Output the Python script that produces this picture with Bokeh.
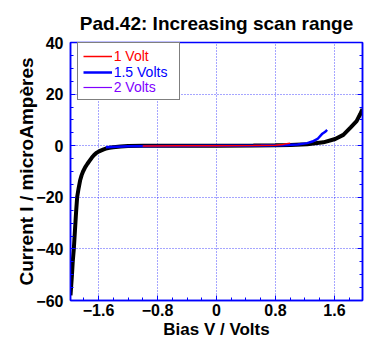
from bokeh.plotting import figure
from bokeh.models import (Range1d, FixedTicker, LinearAxis, Legend, LegendItem)
from bokeh.embed import file_html
from bokeh.resources import INLINE

# ---- data ----
v_1 = [-1.0, -0.5, 0.0, 0.5, 0.8, 0.9, 0.95, 1.0]
i_1 = [-0.1, 0.0, 0.0, 0.05, 0.2, 0.5, 0.8, 1.0]

v_15 = [-1.5, -1.2, -0.8, 0.0, 0.6, 0.9, 1.1, 1.23, 1.3, 1.37, 1.43, 1.48, 1.5]
i_15 = [-0.6, -0.25, -0.1, 0.0, 0.05, 0.2, 0.5, 1.0, 1.6, 2.6, 4.5, 5.5, 6.1]

v_2 = [-1.98, -1.96, -1.95, -1.935, -1.92, -1.905, -1.89, -1.87, -1.85, -1.83, -1.81,
       -1.78, -1.75, -1.72, -1.69, -1.66, -1.63, -1.6, -1.57, -1.53, -1.5, -1.45,
       -1.4, -1.3, -1.2, -1.0, -0.5, 0.0, 0.5, 0.8, 1.0, 1.23,
       1.45, 1.61, 1.72, 1.82, 1.9, 1.95, 1.98]
i_2 = [-58, -50, -45, -40, -33, -26, -20, -16.5, -13.5, -11.5, -10.0,
       -8.3, -7.0, -5.8, -4.6, -3.6, -2.8, -2.3, -1.9, -1.4, -1.1, -0.8,
       -0.6, -0.3, -0.15, -0.05, 0.0, 0.0, 0.05, 0.15, 0.3, 0.6,
       1.3, 2.6, 4.2, 7.1, 9.5, 12.3, 14.2]

x_ticks = [-1.6, -0.8, 0.0, 0.8, 1.6]
x_minor = [round(-2.0 + 0.2 * k, 2) for k in range(21)]
y_ticks = [-60, -40, -20, 0, 20, 40]
y_minor = [-60 + 5 * k for k in range(21)]
labels = ["1 Volt", "1.5 Volts", "2 Volts"]
colors = ["#ff0000", "#0000ff", "#8000ff"]

FONT = "Liberation Sans"
BLUE = "#0000ff"

p = figure(width=365, height=343, output_backend="svg", toolbar_location=None,
           x_range=Range1d(-1.98, 1.98), y_range=Range1d(-60, 40),
           min_border_left=70, min_border_right=3, min_border_top=42,
           min_border_bottom=43)
p.background_fill_color = "white"
p.border_fill_color = "white"
p.outline_line_color = BLUE
p.outline_line_width = 1.5

p.title.text = "Pad.42: Increasing scan range"
p.title.align = "center"
p.title.vertical_align = "bottom"
p.title.text_font = FONT
p.title.text_font_size = "19px"
p.title.text_font_style = "bold"
p.title.text_color = "black"
p.title.standoff = 18

xt = FixedTicker(ticks=x_ticks, minor_ticks=x_minor)
yt = FixedTicker(ticks=y_ticks, minor_ticks=y_minor)

def style_axis(ax, show_labels=True):
    ax.axis_line_color = BLUE
    ax.axis_line_width = 1.5
    ax.major_tick_line_color = BLUE
    ax.minor_tick_line_color = BLUE
    ax.major_tick_in = 5
    ax.major_tick_out = 0
    ax.minor_tick_in = 3
    ax.minor_tick_out = 0
    ax.major_label_text_font = FONT
    ax.major_label_text_font_style = "bold"
    ax.major_label_text_font_size = "16px"
    ax.major_label_text_color = "black"
    ax.axis_label_text_font = FONT
    ax.axis_label_text_font_style = "bold"
    ax.axis_label_text_font_size = "17px"
    ax.axis_label_text_color = "black"
    if not show_labels:
        ax.major_label_standoff = 0
        ax.major_label_overrides = {t: "" for t in ax.ticker.ticks}

p.xaxis.ticker = xt
p.yaxis.ticker = yt
p.xaxis.axis_label = "Bias V / Volts"
p.yaxis.axis_label = "Current I / microAmpères"
style_axis(p.xaxis[0])
style_axis(p.yaxis[0])
p.yaxis.axis_label_text_font_size = "19px"
p.xaxis.major_label_standoff = 3
p.yaxis.major_label_standoff = 7
p.xaxis.axis_label_standoff = 1
p.yaxis.axis_label_standoff = -4

right_ax = LinearAxis(ticker=yt)
style_axis(right_ax, False)
p.add_layout(right_ax, "right")

for g in (p.xgrid[0], p.ygrid[0]):
    g.grid_line_color = BLUE
    g.grid_line_dash = "1 2"
    g.grid_line_width = 1
    g.grid_line_alpha = 0.7
p.xgrid.ticker = xt
p.ygrid.ticker = yt

r2p = p.line(v_2, i_2, line_color=colors[2], line_width=1.2)
r2 = p.line(v_2, i_2, line_color="black", line_width=4)
r15 = p.line(v_15, i_15, line_color=colors[1], line_width=2.5)
r1 = p.line(v_1, i_1, line_color=colors[0], line_width=1.5)
rends = [r1, r15, r2p]
# invisible helper glyph for the legend frame
blank = p.line(v_1[:2], i_1[:2], line_alpha=0)

# legend frame (box only), positions relative to the plot frame
box = Legend(items=[LegendItem(label="\u00a0", renderers=[blank])],
             location=(7, 200))
box.padding = 0
box.margin = 0
box.glyph_width = 93
box.glyph_height = 56
box.label_height = 56
box.label_width = 0
box.label_standoff = 4
box.label_text_font = FONT
box.label_text_font_size = "14px"
box.border_line_color = "black"
box.border_line_width = 1
box.background_fill_color = "white"
box.background_fill_alpha = 1
p.add_layout(box, "center")

row_centers = [244.3, 227.7, 213.3]
for k in range(3):
    lg = Legend(items=[LegendItem(label=labels[k], renderers=[rends[k]])],
                location=(12.7, row_centers[k] - 10))
    lg.padding = 0
    lg.margin = 0
    lg.glyph_width = 29
    lg.glyph_height = 20
    lg.label_height = 20
    lg.label_standoff = 2
    lg.label_text_font = FONT
    lg.label_text_font_size = "14px"
    lg.label_text_color = colors[k]
    lg.border_line_alpha = 0
    lg.background_fill_alpha = 0
    p.add_layout(lg, "center")

html = file_html(p, INLINE)
open("out.html", "w").write(html)
